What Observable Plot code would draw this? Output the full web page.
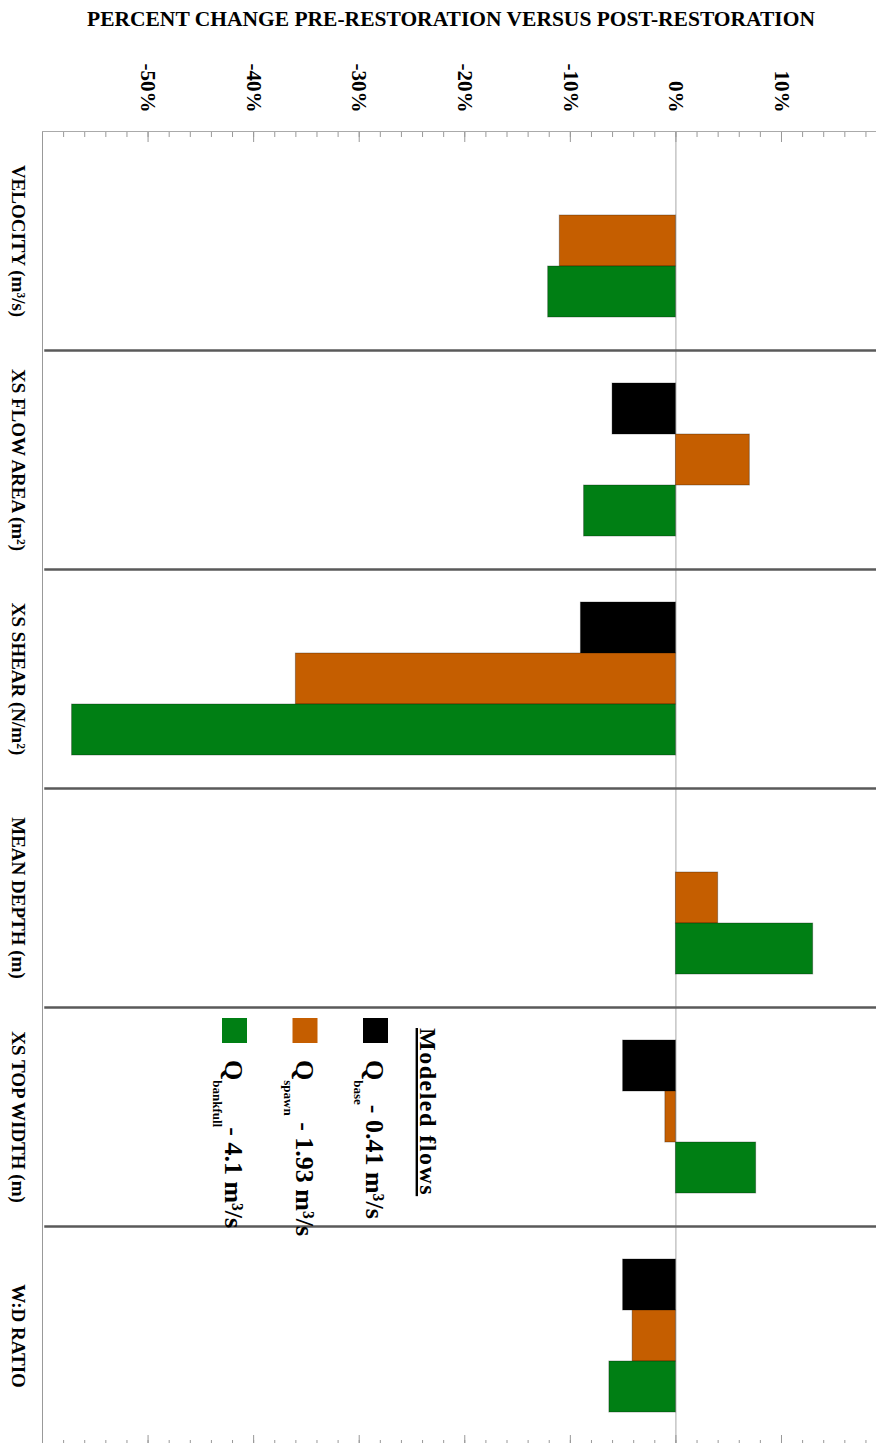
<!DOCTYPE html>
<html><head><meta charset="utf-8">
<script src="https://cdn.jsdelivr.net/npm/d3@7"></script>
<script src="https://cdn.jsdelivr.net/npm/@observablehq/plot@0.6"></script>
<style>
html,body{margin:0;padding:0;background:#fff;overflow:hidden;width:876px;height:1443px;}
body{font-family:"Liberation Serif","Times New Roman",serif;position:relative;}
#title{height:32px;padding-top:7px;padding-left:26px;font-size:21.5px;line-height:24px;font-weight:bold;text-align:center;white-space:nowrap;}
#legend{position:absolute;left:0;top:0;transform-origin:0 0;transform:translate(445px,1010px) rotate(90deg);}
</style></head><body>
<div id="title">PERCENT CHANGE PRE-RESTORATION VERSUS POST-RESTORATION</div>
<div id="chart"></div>
<div id="legend"></div>
<script>
const categories = ["VELOCITY (m³/s)", "XS FLOW AREA (m²)", "XS SHEAR (N/m²)", "MEAN DEPTH (m)", "XS TOP WIDTH (m)", "W:D RATIO"];
const seriesKeys = ["base", "spawn", "bankfull"];
const seriesColors = ["#000000", "#C55E00", "#007F14"];
const baseValues = [null, -6.0, -9.0, null, -5.0, -5.0];
const spawnValues = [-11.0, 7.0, -36.0, 4.0, -1.0, -4.1];
const bankfullValues = [-12.1, -8.7, -57.2, 13.0, 7.6, -6.3];
const tickValues = [-50, -40, -30, -20, -10, 0, 10];
const xDomain = [-60, 19];
const legendTitle = "Modeled flows";
const legendSubs = ["base", "spawn", "bankfull"];
const legendRest = ["- 0.41 m³/s", " - 1.93 m³/s", "- 4.1 m³/s"];

const FONT = '"Liberation Serif","Times New Roman",serif';
const valueArrays = [baseValues, spawnValues, bankfullValues];
const data = [];
categories.forEach((c, i) => {
  valueArrays.forEach((arr, j) => {
    if (arr[i] != null) data.push({category: c, series: seriesKeys[j], value: arr[i]});
  });
});
const minorTicks = d3.range(xDomain[0], xDomain[1] + 1, 2);
const majorTicks = d3.range(xDomain[0], xDomain[1] + 1, 10);

const sepFrames = categories.slice(1).map(c =>
  Plot.frame({anchor: "top", fy: [c], stroke: "#5a5a5a", strokeWidth: 2.5, insetLeft: 3}));

const plot = Plot.plot({
  width: 876, height: 1418,
  marginTop: 90, marginBottom: 10, marginLeft: 42, marginRight: 0,
  style: {fontFamily: FONT, background: "#fff", overflow: "visible", color: "#000"},
  x: {domain: xDomain, label: null},
  y: {domain: seriesKeys, paddingInner: 0, paddingOuter: 0.64, axis: null, label: null},
  fy: {domain: categories, padding: 0, label: null},
  color: {domain: seriesKeys, range: seriesColors},
  marks: [
    Plot.ruleX([0], {stroke: "#a8a8a8", strokeWidth: 1}),
    Plot.barX(data, {x: "value", y: "series", fy: "category", fill: "series", stroke: "#000", strokeOpacity: 0.3, strokeWidth: 1, inset: 0}),
    Plot.ruleX([xDomain[0]], {stroke: "#999", strokeWidth: 1}),
    Plot.frame({anchor: "top", fy: [categories[0]], stroke: "#aaa", strokeWidth: 1}),
    Plot.frame({anchor: "bottom", fy: [categories[categories.length - 1]], stroke: "#aaa", strokeWidth: 1}),
    ...sepFrames,
    Plot.axisX({anchor: "top", ticks: minorTicks, tickSize: -5, tickFormat: () => "", color: "#999", label: null}),
    Plot.axisX({anchor: "top", ticks: majorTicks, tickSize: -10, tickFormat: () => "", color: "#999", label: null}),
    Plot.axisX({anchor: "bottom", ticks: minorTicks, tickSize: -5, tickFormat: () => "", color: "#999", label: null}),
    Plot.axisX({anchor: "bottom", ticks: majorTicks, tickSize: -10, tickFormat: () => "", color: "#999", label: null}),
    Plot.axisX({anchor: "top", ticks: tickValues, tickSize: 0, tickPadding: 19, tickRotate: 90,
      textAnchor: "end", lineAnchor: "middle", tickFormat: d => d + "%",
      fontSize: 21, fontWeight: "bold", color: "#000", label: null}),
    Plot.axisFy({anchor: "left", tickSize: 0, tickPadding: 24, tickRotate: 90,
      textAnchor: "middle", lineAnchor: "middle", fontSize: 19, fontWeight: "bold", color: "#000", label: null})
  ]
});
document.getElementById("chart").appendChild(plot);

// Legend (rotated like the rest of the figure)
const lg = d3.select("#legend").append("svg")
  .attr("width", 240).attr("height", 230)
  .style("overflow", "visible")
  .style("font-family", FONT).style("font-weight", "bold");
lg.append("text").attr("x", 18).attr("y", 25).attr("font-size", 24)
  .attr("letter-spacing", 1.5).attr("text-decoration", "underline").text(legendTitle);
seriesKeys.forEach((k, i) => {
  const off = i * 70.5;
  lg.append("rect").attr("x", 8).attr("y", 57 + off).attr("width", 25).attr("height", 25)
    .attr("fill", seriesColors[i]);
  const t = lg.append("text").attr("x", 50).attr("y", 79 + off).attr("font-size", 26);
  t.append("tspan").text("Q");
  t.append("tspan").attr("font-size", 13).attr("dy", 12).text(legendSubs[i]);
  t.append("tspan").attr("dy", -12).text(legendRest[i]);
});
</script>
</body></html>
